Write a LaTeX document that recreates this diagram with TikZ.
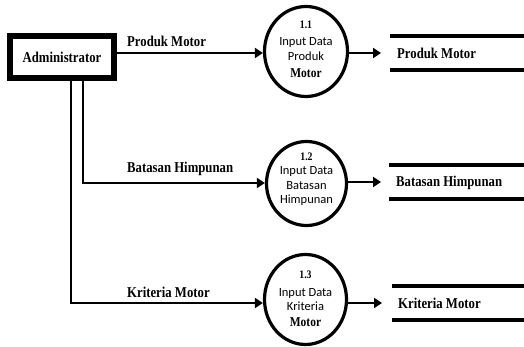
\documentclass[tikz,border=0pt]{standalone}
\usepackage{fontspec}
\setmainfont{Liberation Serif}
\newfontfamily\tnrfont[FakeStretch=0.85]{Liberation Serif}
\newfontfamily\calfont{Carlito}
\usetikzlibrary{arrows.meta,shapes.geometric}
\begin{document}
\begin{tikzpicture}[x=1pt,y=-1pt,
  arr/.style={line width=2.7pt,-{Triangle[length=8pt,width=10pt]}},
  proc/.style={draw,ellipse,line width=3.2pt,inner sep=0pt},
  lbl/.style={font=\tnrfont\bfseries\fontsize{15}{17}\selectfont,inner sep=0pt,anchor=west,text height=10pt,text depth=3pt},
  pnum/.style={font=\tnrfont\bfseries\fontsize{11.5}{13}\selectfont,inner sep=0pt,text height=7.5pt,text depth=0pt},
  psans/.style={font=\calfont\fontsize{12.5}{14}\selectfont,inner sep=0pt,text height=8.5pt,text depth=2.5pt},
  pser/.style={font=\tnrfont\bfseries\fontsize{13.5}{15}\selectfont,inner sep=0pt,text height=9pt,text depth=2.5pt},
  store/.style={anchor=west,minimum width=134pt,inner sep=0pt,minimum height=#1},
  stxt/.style={anchor=west,font=\tnrfont\bfseries\fontsize{15}{17}\selectfont,inner sep=0pt,text height=10pt,text depth=3pt},
  storeline/.style={line width=4.3pt}]
\useasboundingbox (0,0) rectangle (524,347);
% external entity
\node[draw,line width=5.5pt,minimum width=104pt,minimum height=42pt,inner sep=0pt,
  font=\tnrfont\bfseries\fontsize{15}{17}\selectfont] (admin) at (62,57) {Administrator};
% processes
\node[proc,minimum width=83pt,minimum height=90pt] (e1) at (306,51.5) {};
\node[proc,minimum width=80pt,minimum height=84pt] (e2) at (306.5,183.5) {};
\node[proc,minimum width=82pt,minimum height=90pt] (e3) at (305.5,299.5) {};
% process texts
\node[pnum] (e1a) at (306,25) {1.1};
\node[psans] (e1b) at (306,43) {Input Data};
\node[psans] (e1c) at (306,57.5) {Produk};
\node[pser] (e1d) at (306,74.5) {Motor};
\node[pnum] (e2a) at (306.5,157) {1.2};
\node[psans] (e2b) at (306.5,172) {Input Data};
\node[psans] (e2c) at (306.5,186.5) {Batasan};
\node[psans] (e2d) at (306.5,200.5) {Himpunan};
\node[pnum] (e3a) at (305.5,275) {1.3};
\node[psans] (e3b) at (305.5,293) {Input Data};
\node[psans] (e3c) at (305.5,307) {Kriteria};
\node[pser] (e3d) at (305.5,323.5) {Motor};
% data stores
\node[store=33.5pt] (s1) at (390,53) {};
\node[store=33.5pt] (s2) at (389,182) {};
\node[store=33pt] (s3) at (392,303) {};
\node[stxt] (t1) at ([xshift=7pt,yshift=-2pt]s1.west) {Produk Motor};
\node[stxt] (t2) at ([xshift=7pt,yshift=-1.5pt]s2.west) {Batasan Himpunan};
\node[stxt] (t3) at ([xshift=6pt,yshift=-1.5pt]s3.west) {Kriteria Motor};
\foreach \s in {s1,s2,s3}{
  \draw[storeline] (\s.north west) -- ([xshift=20pt]\s.north east);
  \draw[storeline] (\s.south west) -- ([xshift=20pt]\s.south east);
}
% flow labels
\node[lbl] (l1) at (127,43.5) {Produk Motor};
\node[lbl] (l2) at (127,169.5) {Batasan Himpunan};
\node[lbl] (l3) at (127,293.5) {Kriteria Motor};
% flows from entity
\coordinate (a1) at ([xshift=21pt]admin.south);
\coordinate (a2) at ([xshift=9pt]admin.south);
\draw[arr] (admin.east |- 0,53) -- (e1.west |- 0,53);
\draw[arr] (a1) |- (e2.west |- 0,183);
\draw[arr] (a2) |- (e3.west |- 0,303);
% flows to stores
\draw[arr] (e1.east |- s1) -- ([xshift=-9pt]s1.west);
\draw[arr] (e2.east |- s2) -- ([xshift=-8pt]s2.west);
\draw[arr] (e3.east |- s3) -- ([xshift=-10pt]s3.west);
\end{tikzpicture}
\end{document}
